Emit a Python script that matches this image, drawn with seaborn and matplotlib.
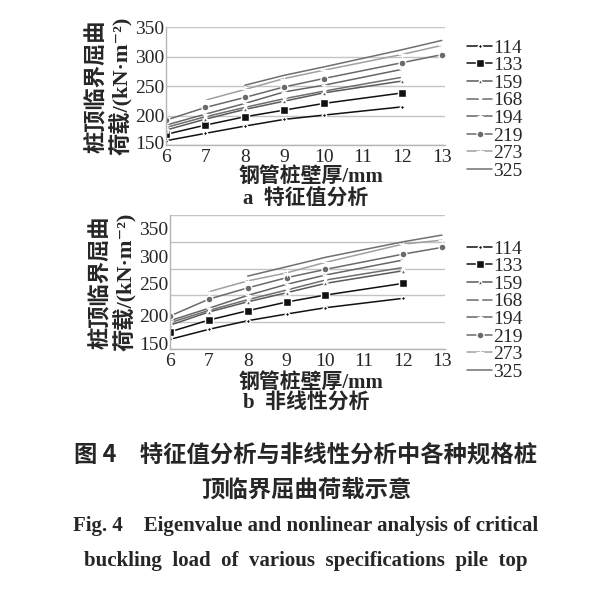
import numpy as np
import pandas as pd
import matplotlib
matplotlib.use("Agg")
import matplotlib.pyplot as plt
import seaborn as sns
from matplotlib.transforms import ScaledTranslation

# ---------------- data ----------------
specs = ["114", "133", "159", "168", "194", "219", "273", "325"]
x_114_194 = [6, 7, 8, 9, 10, 12]
x_219 = [6, 7, 8, 9, 10, 12, 13]
x_273 = [7, 8, 9, 10, 12, 13]
x_325 = [8, 9, 10, 12, 13]

# a: eigenvalue analysis
a_114 = [157.6, 170.1, 182.4, 193.8, 201.0, 215.1]
a_133 = [168.4, 184.1, 198.2, 209.5, 220.8, 238.7]
a_159 = [175.7, 194.2, 210.7, 224.7, 238.7, 259.0]
a_168 = [180.2, 198.2, 214.1, 228.9, 241.6, 265.4]
a_194 = [184.1, 202.7, 220.8, 240.4, 251.7, 278.8]
a_219 = [192.6, 214.0, 231.0, 248.9, 263.1, 290.1, 303.6]
a_273 = [226.4, 244.5, 263.1, 277.1, 304.1, 319.3]
a_325 = [251.7, 268.6, 282.7, 312.1, 327.8]

# b: nonlinear analysis
b_114 = [168.0, 186.7, 202.8, 215.2, 227.0, 244.5]
b_133 = [182.0, 204.0, 221.4, 237.6, 250.6, 272.4]
b_159 = [194.5, 219.0, 238.0, 255.0, 272.4, 296.0]
b_168 = [199.0, 222.0, 242.0, 260.0, 278.6, 302.0]
b_194 = [202.8, 226.0, 250.0, 270.6, 288.0, 316.0]
b_219 = [211.5, 243.0, 264.0, 283.0, 298.5, 327.0, 339.5]
b_273 = [256.8, 277.0, 292.0, 311.6, 345.7, 353.0]
b_325 = [286.0, 303.4, 321.0, 350.0, 362.5]

y_ticks = [150, 200, 250, 300, 350]
x_ticks = [6, 7, 8, 9, 10, 11, 12, 13]

xs = [x_114_194] * 5 + [x_219, x_273, x_325]
series_a = [a_114, a_133, a_159, a_168, a_194, a_219, a_273, a_325]
series_b = [b_114, b_133, b_159, b_168, b_194, b_219, b_273, b_325]

# ---------------- style ----------------
sns.set_theme(style="white")
plt.rcParams["font.family"] = ["Liberation Serif", "Noto Sans CJK SC", "DejaVu Serif"]
plt.rcParams["axes.unicode_minus"] = False

colors = ["#111111", "#111111", "#5a5a5a", "#6e6e6e", "#666666", "#6a6a6a", "#a0a0a0", "#707070"]
markers = ["D", "s", "^", "x", "+", "o", "+", ""]
msizes = [2.5, 6, 3.5, 4, 5, 5, 6, 0]
mews = [1, 1, 1, 1, 1, 1, 0.8, 1]

fig = plt.figure(figsize=(6.12, 5.94), dpi=100)
W, H = 612, 594


def px_axes(l, t, r, b):
    return fig.add_axes([l / W, 1 - b / H, (r - l) / W, (b - t) / H])


ax_a = px_axes(166, 27.3, 445, 145.2)
ax_b = px_axes(170, 215, 445, 349)

tick_font = {"family": ["Liberation Serif", "DejaVu Serif"], "size": 14}
cjk_serif = ["Liberation Serif", "Noto Sans CJK SC", "DejaVu Serif"]

for ax, data, ylim in [(ax_a, series_a, (150, 350)), (ax_b, series_b, (150, 400))]:
    for i, (x, y) in enumerate(zip(xs, data)):
        df = pd.DataFrame({"t": x, "v": y})
        sns.lineplot(data=df, x="t", y="v", ax=ax, color=colors[i],
                     marker=markers[i] if markers[i] else None,
                     markersize=msizes[i], markeredgewidth=mews[i],
                     linewidth=1.1, label=specs[i], legend=False)
    ax.set_xlim(6, 13.08)
    ax.set_ylim(*ylim)
    ax.set_xticks(x_ticks)
    ax.set_xticklabels([str(t) for t in x_ticks], fontdict=tick_font)
    if ylim[1] == 400:
        ax.set_yticks(y_ticks + [400])
        ax.set_yticklabels([str(t) for t in y_ticks] + [""], fontdict=tick_font)
    else:
        ax.set_yticks(y_ticks)
        ax.set_yticklabels([str(t) for t in y_ticks], fontdict=tick_font)
    ax.grid(axis="y", color="#c4c4c4", linewidth=1.0)
    ax.grid(axis="x", visible=False)
    for s in ["top", "right"]:
        ax.spines[s].set_visible(False)
    for s in ["left", "bottom"]:
        ax.spines[s].set_color("#b5b5b5")
        ax.spines[s].set_linewidth(1.0)
    ax.tick_params(axis="y", length=0, pad=1)
    ax.tick_params(axis="x", length=0, pad=3)
    ax.set_xlabel("")
    ax.set_ylabel("桩顶临界屈曲\n荷载/(kN·m⁻²)", family=cjk_serif, fontsize=16,
                  fontweight="bold", linespacing=1.05, labelpad=2)
    ax.patch.set_alpha(0)

# tick labels appear shifted upward in the reference
offs_a = [3, 0, 0, 0, 0]
for lab, o in zip(ax_a.get_yticklabels(), offs_a):
    lab.set_transform(lab.get_transform() + ScaledTranslation(0, o / 100, fig.dpi_scale_trans))
offs_b = [5.5, 7, 11.4, 11.8, 13.7, 0]
for lab, o in zip(ax_b.get_yticklabels(), offs_b):
    lab.set_transform(lab.get_transform() + ScaledTranslation(0, o / 100, fig.dpi_scale_trans))

# x labels and sub captions
for ax, sub, yx, ys in [(ax_a, "a  特征值分析", 177, 200), (ax_b, "b  非线性分析", 383, 403)]:
    fig.text(311 / W, 1 - yx / H, "钢管桩壁厚/mm", ha="center", va="center",
             family=cjk_serif, fontsize=15, fontweight="bold")
    fig.text(243 / W, 1 - ys / H, sub, ha="left", va="center",
             family=cjk_serif, fontsize=15, fontweight="bold")

# legends
for ax, ytop in [(ax_a, 39), (ax_b, 240)]:
    handles, labels = ax.get_legend_handles_labels()
    fig.legend(handles, labels, loc="upper left", bbox_to_anchor=(467 / W, 1 - ytop / H),
               frameon=False, prop={"family": ["Liberation Serif"], "size": 14},
               handlelength=1.3, handletextpad=0.05, labelspacing=0.0,
               borderpad=0, borderaxespad=0)

# captions
fig.text(0.5, 1 - 455 / H, "图 4　特征值分析与非线性分析中各种规格桩", ha="center", va="center",
         family=["Noto Sans CJK SC"], fontsize=16.8, fontweight="bold")
fig.text(0.5, 1 - 490 / H, "顶临界屈曲荷载示意", ha="center", va="center",
         family=["Noto Sans CJK SC"], fontsize=16.8, fontweight="bold")
fig.text(0.5, 1 - 526 / H, "Fig. 4    Eigenvalue and nonlinear analysis of critical", ha="center",
         va="center", family=["Liberation Serif"], fontsize=15, fontweight="bold")
fig.text(0.5, 1 - 561 / H, "buckling  load  of  various  specifications  pile  top", ha="center",
         va="center", family=["Liberation Serif"], fontsize=15, fontweight="bold")

fig.savefig("out.png", dpi=100)
